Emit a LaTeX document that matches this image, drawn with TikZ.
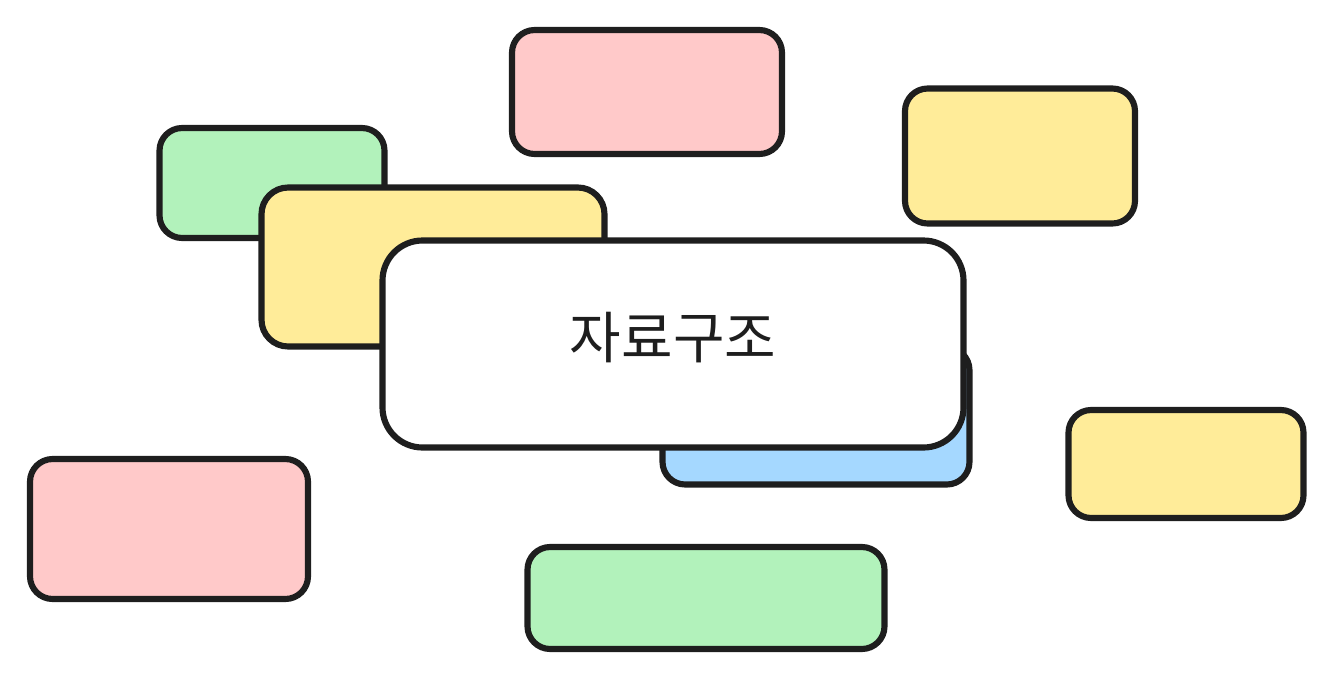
\documentclass[tikz,border=0pt]{standalone}
\usepackage{fontspec}
\newfontfamily\krfont{Noto Sans CJK KR}
\definecolor{inkline}{HTML}{1E1E1E}
\definecolor{cardpink}{HTML}{FFC9C9}
\definecolor{cardyellow}{HTML}{FFEC99}
\definecolor{cardgreen}{HTML}{B2F2BB}
\definecolor{cardblue}{HTML}{A5D8FF}
\begin{document}
\begin{tikzpicture}[x=0.75pt, y=-0.75pt, card/.style={draw=inkline, line width=4.6pt, line join=round, rounded corners=17pt, inner sep=0pt}]

  \useasboundingbox (0,0) rectangle (1336,682);

  % Back cards
  \node[card, fill=cardpink, minimum width={270*0.75pt}, minimum height={124*0.75pt}] (pinkTop) at (647,92) {};
  \node[card, fill=cardyellow, minimum width={230*0.75pt}, minimum height={135*0.75pt}] (yellowTR) at (1020,156) {};
  \node[card, fill=cardgreen, minimum width={225*0.75pt}, minimum height={110*0.75pt}] (greenL) at (272,183) {};
  \node[card, fill=cardyellow, minimum width={343*0.75pt}, minimum height={159*0.75pt}, rounded corners=20pt] (yellowM) at (433,267) {};
  \node[card, fill=cardblue, minimum width={307*0.75pt}, minimum height={137*0.75pt}] (blueC) at (816,416) {};

  % Main card
  \node[card, fill=white, minimum width={581*0.75pt}, minimum height={207*0.75pt}, rounded corners=30pt] (main) at (673,344) {};
  \node[font=\krfont\fontsize{42pt}{50pt}\selectfont, text=inkline, yshift=4.5pt] (title) at (main) {자료구조};

  % Front cards
  \node[card, fill=cardyellow, minimum width={235*0.75pt}, minimum height={108*0.75pt}] (yellowR) at (1186,464) {};
  \node[card, fill=cardpink, minimum width={278*0.75pt}, minimum height={140*0.75pt}] (pinkBL) at (169,529) {};
  \node[card, fill=cardgreen, minimum width={357*0.75pt}, minimum height={102*0.75pt}] (greenB) at (706,598) {};

\end{tikzpicture}
\end{document}
